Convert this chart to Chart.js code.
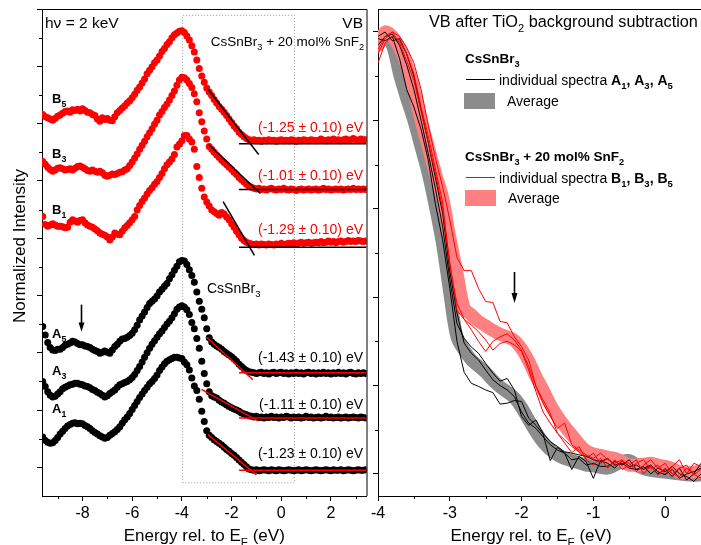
<!DOCTYPE html>
<html><head><meta charset="utf-8">
<script src="https://cdn.jsdelivr.net/npm/chart.js@4.4.1/dist/chart.umd.min.js"></script>
<style>
html,body{margin:0;padding:0;background:#fff;}
#wrap{position:relative;width:701px;height:545px;overflow:hidden;background:#fff;}
#c1{position:absolute;left:0;top:0;}
#c2{position:absolute;left:350px;top:0;}
</style></head><body>
<div id="wrap"><canvas id="c1" width="370" height="545"></canvas><canvas id="c2" width="351" height="545"></canvas></div>
<script>
// ---------------- LEFT PANEL DATA (energy in eV, offset normalized intensity) ----------------
const energyLeft = [-9.6,-9.5,-9.4,-9.3,-9.2,-9.1,-9.0,-8.9,-8.8,-8.7,-8.6,-8.5,-8.4,-8.3,-8.2,-8.1,-8.0,-7.9,-7.8,-7.7,
 -7.6,-7.5,-7.4,-7.3,-7.2,-7.1,-7.0,-6.9,-6.8,-6.7,-6.6,-6.5,-6.4,-6.3,-6.2,-6.1,-6.0,-5.9,-5.8,-5.7,
 -5.6,-5.5,-5.4,-5.3,-5.2,-5.1,-5.0,-4.9,-4.8,-4.7,-4.6,-4.5,-4.4,-4.3,-4.2,-4.1,-4.0,-3.9,-3.8,-3.7,
 -3.6,-3.5,-3.4,-3.3,-3.2,-3.1,-3.0,-2.9,-2.8,-2.7,-2.6,-2.5,-2.4,-2.3,-2.2,-2.1,-2.0,-1.9,-1.8,-1.7,
 -1.6,-1.5,-1.4,-1.3,-1.2,-1.1,-1.0,-0.9,-0.8,-0.7,-0.6,-0.5,-0.4,-0.3,-0.2,-0.1,0.0,0.1,0.2,0.3,
 0.4,0.5,0.6,0.7,0.8,0.9,1.0,1.1,1.2,1.3,1.4,1.5,1.6,1.7,1.8,1.9,2.0,2.1,2.2,2.3,
 2.4,2.5,2.6,2.7,2.8,2.9,3.0,3.1,3.2,3.3,3.4];

const specB5 = [6.16,6.12,6.10,6.08,6.06,6.09,6.13,6.15,6.18,6.21,
 6.22,6.20,6.24,6.23,6.25,6.22,6.26,6.23,6.20,6.19,
 6.16,6.14,6.08,6.04,6.10,6.07,6.09,6.06,6.05,6.12,
 6.19,6.23,6.27,6.31,6.36,6.40,6.45,6.51,6.58,6.64,
 6.71,6.78,6.87,6.93,6.99,7.06,7.11,7.18,7.26,7.31,
 7.38,7.43,7.50,7.55,7.58,7.61,7.62,7.59,7.53,7.46,
 7.36,7.25,7.11,6.96,6.83,6.72,6.62,6.55,6.49,6.42,
 6.36,6.30,6.25,6.20,6.14,6.08,6.02,5.96,5.91,5.85,
 5.81,5.77,5.74,5.72,5.71,5.72,5.70,5.71,5.69,5.71,
 5.70,5.72,5.70,5.71,5.69,5.71,5.72,5.70,5.71,5.70,
 5.72,5.71,5.69,5.71,5.70,5.72,5.71,5.70,5.72,5.71,
 5.70,5.71,5.73,5.71,5.70,5.72,5.71,5.73,5.71,5.72,
 5.70,5.72,5.73,5.71,5.72,5.74,5.72,5.71,5.73,5.72,5.72];

const specB3 = [5.34,5.29,5.24,5.20,5.17,5.19,5.22,5.23,5.21,5.19,
 5.20,5.21,5.19,5.22,5.25,5.26,5.24,5.21,5.18,5.17,
 5.19,5.17,5.15,5.17,5.14,5.10,5.08,5.10,5.12,5.11,
 5.13,5.15,5.16,5.19,5.21,5.27,5.33,5.40,5.47,5.55,
 5.62,5.69,5.77,5.84,5.91,5.99,6.06,6.15,6.21,6.28,
 6.34,6.41,6.49,6.57,6.67,6.76,6.81,6.80,6.76,6.70,
 6.63,6.52,6.38,6.19,6.03,5.87,5.73,5.60,5.55,5.50,
 5.45,5.41,5.36,5.32,5.28,5.24,5.20,5.15,5.11,5.06,
 5.02,4.98,4.94,4.91,4.89,4.87,4.86,4.87,4.85,4.86,
 4.84,4.86,4.87,4.85,4.84,4.86,4.85,4.87,4.85,4.84,
 4.86,4.85,4.83,4.85,4.86,4.84,4.85,4.86,4.84,4.85,
 4.86,4.84,4.85,4.87,4.85,4.86,4.84,4.85,4.86,4.85,
 4.86,4.84,4.85,4.86,4.85,4.87,4.85,4.86,4.85,4.86,4.85];

const specB1 = [4.38,4.24,4.21,4.23,4.25,4.23,4.21,4.21,4.20,4.18,
 4.19,4.28,4.32,4.30,4.28,4.31,4.32,4.27,4.23,4.21,
 4.19,4.16,4.13,4.09,4.07,4.05,4.02,3.97,4.02,4.09,
 4.07,4.06,4.12,4.18,4.22,4.27,4.32,4.38,4.49,4.57,
 4.64,4.70,4.77,4.83,4.88,4.94,4.99,5.06,5.13,5.21,
 5.28,5.33,5.38,5.46,5.59,5.64,5.70,5.79,5.79,5.73,
 5.68,5.55,5.25,5.06,4.87,4.72,4.63,4.56,4.49,4.46,
 4.43,4.40,4.45,4.42,4.37,4.32,4.25,4.19,4.12,4.06,
 4.00,3.96,3.93,3.91,3.90,3.89,3.90,3.88,3.90,3.89,
 3.88,3.90,3.89,3.88,3.90,3.89,3.91,3.89,3.90,3.91,
 3.90,3.92,3.90,3.91,3.93,3.91,3.92,3.93,3.91,3.92,
 3.93,3.92,3.94,3.92,3.93,3.95,3.93,3.94,3.92,3.94,
 3.95,3.93,3.94,3.96,3.94,3.95,3.94,3.96,3.95,3.94,3.95];

const specA5 = [2.46,2.31,2.18,2.09,2.05,2.04,2.06,2.06,2.09,2.13,
 2.15,2.17,2.20,2.19,2.16,2.14,2.14,2.12,2.11,2.09,
 2.06,2.04,2.02,1.99,2.01,2.03,2.01,1.99,2.05,2.11,
 2.15,2.20,2.24,2.25,2.27,2.30,2.34,2.40,2.48,2.57,
 2.64,2.71,2.79,2.86,2.90,2.94,2.99,3.06,3.11,3.16,
 3.21,3.29,3.36,3.44,3.51,3.59,3.61,3.60,3.54,3.45,
 3.35,3.23,3.06,2.90,2.76,2.61,2.42,2.26,2.19,2.15,
 2.12,2.09,2.06,2.02,1.99,1.96,1.93,1.89,1.85,1.80,
 1.76,1.72,1.69,1.67,1.66,1.65,1.64,1.65,1.66,1.64,
 1.65,1.63,1.65,1.66,1.64,1.65,1.66,1.64,1.65,1.63,
 1.65,1.64,1.66,1.64,1.65,1.63,1.65,1.66,1.64,1.65,
 1.63,1.65,1.64,1.66,1.64,1.65,1.63,1.65,1.64,1.66,
 1.64,1.65,1.63,1.65,1.66,1.64,1.63,1.65,1.64,1.65,1.64];

const specA3 = [1.50,1.41,1.32,1.26,1.23,1.24,1.28,1.32,1.37,1.40,
 1.42,1.44,1.45,1.47,1.47,1.45,1.44,1.42,1.41,1.39,
 1.36,1.34,1.31,1.29,1.26,1.23,1.25,1.29,1.32,1.35,
 1.40,1.44,1.46,1.48,1.50,1.53,1.57,1.62,1.69,1.76,
 1.84,1.92,2.00,2.08,2.15,2.21,2.27,2.33,2.38,2.44,
 2.50,2.55,2.61,2.68,2.76,2.80,2.82,2.80,2.75,2.67,
 2.53,2.42,2.25,2.08,1.85,1.64,1.46,1.32,1.25,1.23,
 1.21,1.17,1.14,1.12,1.09,1.06,1.04,1.02,1.00,0.98,
 0.95,0.93,0.92,0.90,0.89,0.88,0.89,0.87,0.88,0.86,
 0.88,0.87,0.89,0.87,0.88,0.86,0.88,0.87,0.89,0.88,
 0.86,0.88,0.87,0.88,0.86,0.87,0.89,0.87,0.88,0.86,
 0.87,0.88,0.86,0.87,0.89,0.87,0.88,0.86,0.87,0.88,
 0.86,0.87,0.88,0.86,0.87,0.88,0.87,0.86,0.88,0.87,0.86];

const specA1 = [0.53,0.47,0.44,0.42,0.43,0.47,0.52,0.58,0.63,0.68,
 0.72,0.75,0.77,0.78,0.76,0.77,0.76,0.73,0.71,0.68,
 0.64,0.61,0.58,0.55,0.53,0.51,0.52,0.56,0.59,0.62,
 0.66,0.71,0.77,0.83,0.88,0.94,1.01,1.08,1.15,1.22,
 1.28,1.34,1.40,1.46,1.50,1.55,1.61,1.69,1.75,1.81,
 1.85,1.88,1.90,1.92,1.92,1.91,1.90,1.84,1.79,1.70,
 1.56,1.42,1.34,1.19,0.98,0.80,0.64,0.56,0.52,0.48,
 0.45,0.42,0.39,0.35,0.31,0.28,0.24,0.21,0.17,0.13,
 0.09,0.05,0.01,-0.03,-0.04,-0.05,-0.04,-0.06,-0.05,-0.04,
 -0.05,-0.06,-0.04,-0.05,-0.06,-0.04,-0.05,-0.06,-0.05,-0.04,
 -0.05,-0.06,-0.05,-0.04,-0.06,-0.05,-0.04,-0.05,-0.06,-0.05,
 -0.04,-0.05,-0.06,-0.05,-0.04,-0.05,-0.06,-0.04,-0.05,-0.05,
 -0.04,-0.06,-0.05,-0.04,-0.05,-0.06,-0.05,-0.04,-0.05,-0.05,-0.04];

// Linear onset fits (edge line: two end points; baseline: level)
const fitB5X = [-2.95,-0.91], fitB5Y = [6.60,5.46], baseB5 = 5.65;
const fitB3X = [-2.91,-0.84], fitB3Y = [5.63,4.78], baseB3 = 4.85;
const fitB1X = [-2.34,-1.08], fitB1Y = [4.64,3.70], baseB1 = 3.84;
const fitA5X = [-3.01,-1.14], fitA5Y = [2.27,1.53], baseA5 = 1.65;
const fitA3X = [-3.21,-0.94], fitA3Y = [1.36,0.81], baseA3 = 0.86;
const fitA1X = [-2.95,-1.00], fitA1Y = [0.57,-0.13], baseA1 = -0.05;
const baseX = [-1.70, 3.43];
const onsetLabelsB = ['(-1.25 \u00B1 0.10) eV','(-1.01 \u00B1 0.10) eV','(-1.29 \u00B1 0.10) eV'];
const onsetLabelsA = ['(-1.43 \u00B1 0.10) eV','(-1.11 \u00B1 0.10) eV','(-1.23 \u00B1 0.10) eV'];
const boxX = [-3.97, 0.53], boxY = [-0.27, 7.89];
const leftXTicksMinor = [-9,-7,-5,-3,-1,1,3];
const leftYTicksMinor = [0.5,1.5,2.5,3.5,4.5,5.5,6.5,7.5];
const arrowLeft = {x:-8.05, from:2.84, to:2.37};

// ---------------- RIGHT PANEL DATA ----------------
const energyRight = [-4.0,-3.9,-3.8,-3.7,-3.6,-3.5,-3.4,-3.3,-3.2,-3.1,-3.0,-2.9,-2.8,-2.7,-2.6,-2.5,-2.4,-2.3,-2.2,-2.1,
 -2.0,-1.9,-1.8,-1.7,-1.6,-1.5,-1.4,-1.3,-1.2,-1.1,-1.0,-0.9,-0.8,-0.7,-0.6,-0.5,-0.4,-0.3,-0.2,-0.1,
 0.0,0.1,0.2,0.3,0.4,0.5];
const vbA1 = [0.985,0.98,0.99,0.94,0.87,0.83,0.78,0.71,0.61,0.53,
 0.42,0.30,0.23,0.205,0.198,0.19,0.184,0.158,0.16,0.166,
 0.164,0.126,0.11,0.09,0.03,0.06,0.047,0.01,0.04,0.028,
 -0.01,0.03,0.024,0.013,0.03,0.017,0.02,0.01,0.017,0.0,
 0.01,-0.006,0.013,-0.014,0.0,0.024];
const vbA3 = [0.97,0.99,0.995,0.97,0.925,0.87,0.80,0.725,0.645,0.56,
 0.44,0.34,0.307,0.287,0.273,0.25,0.228,0.21,0.216,0.19,
 0.13,0.11,0.122,0.092,0.073,0.062,0.05,0.047,0.043,0.04,
 0.032,0.028,0.035,0.02,0.024,0.013,0.01,0.017,0.0,0.013,
 0.005,0.017,0.0,-0.006,-0.017,0.0];
const vbA5 = [0.99,1.0,0.98,0.985,0.95,0.90,0.825,0.75,0.67,0.59,
 0.46,0.364,0.296,0.273,0.258,0.235,0.213,0.20,0.19,0.175,
 0.14,0.115,0.103,0.084,0.066,0.054,0.047,0.032,0.035,0.02,
 0.024,0.017,0.017,0.028,0.02,0.032,0.01,0.013,0.02,0.005,
 -0.002,0.01,-0.01,0.0,0.005,0.013];
const vbB1 = [0.96,0.99,1.0,0.99,0.965,0.93,0.87,0.79,0.715,0.65,
 0.575,0.49,0.46,0.46,0.42,0.39,0.388,0.345,0.342,0.31,
 0.288,0.258,0.198,0.16,0.13,0.103,0.115,0.066,0.054,0.043,
 0.035,0.047,0.032,0.024,0.032,0.013,0.024,0.032,0.01,0.02,
 0.0,0.017,0.032,0.0,0.024,0.017];
const vbB3 = [0.93,0.975,0.99,0.98,0.95,0.905,0.83,0.765,0.69,0.615,
 0.47,0.386,0.35,0.326,0.30,0.277,0.30,0.31,0.317,0.303,
 0.28,0.243,0.198,0.167,0.137,0.092,0.077,0.062,0.05,0.035,
 0.047,0.024,0.035,0.017,0.028,0.024,0.005,0.02,0.032,0.013,
 0.024,0.0,0.013,0.02,-0.002,0.01];
const vbB5 = [0.95,0.985,1.0,0.975,0.935,0.89,0.82,0.75,0.68,0.60,
 0.48,0.37,0.35,0.337,0.322,0.303,0.28,0.295,0.30,0.292,
 0.277,0.235,0.186,0.14,0.115,0.092,0.07,0.048,0.062,0.032,
 0.02,0.035,0.013,0.032,0.01,0.02,0.032,0.0,0.017,-0.002,
 0.013,0.0,-0.006,0.013,0.0,-0.01];
const vbAvgA = [0.97,0.99,0.97,0.905,0.85,0.80,0.74,0.68,0.605,0.52,
 0.41,0.31,0.28,0.258,0.244,0.23,0.212,0.197,0.185,0.172,
 0.15,0.122,0.095,0.072,0.055,0.043,0.035,0.03,0.025,0.02,
 0.018,0.015,0.013,0.02,0.028,0.03,0.02,0.012,0.008,0.006,
 0.004,0.002,0.0,-0.002,-0.003,-0.002];
const vbAvgB = [0.97,1.0,0.99,0.965,0.925,0.87,0.80,0.74,0.68,0.625,
 0.535,0.455,0.375,0.36,0.345,0.335,0.325,0.316,0.31,0.302,
 0.283,0.255,0.22,0.19,0.157,0.13,0.108,0.088,0.068,0.052,
 0.045,0.042,0.038,0.035,0.028,0.02,0.02,0.022,0.024,0.02,
 0.017,0.012,0.005,0.002,0.004,0.005];
const rightXTicksMinor = [-3.5,-2.5,-1.5,-0.5];
const rightYTicksMinor = [0.1,0.3,0.5,0.7,0.9];
const arrowRight = {x:-2.1, from:0.457, to:0.387};

// ---------------- helpers ----------------
const FONT = "'Liberation Sans', Arial, Helvetica, sans-serif";
Chart.defaults.font.family = FONT;
Chart.defaults.color = '#000';
const RED = '#ff0000', GREY_BAND = '#8c8c8c', RED_BAND = '#ff8080';

const pts = (xs, ys) => xs.map((x, i) => ({x, y: ys[i]}));
const hline = (xs, y) => xs.map(x => ({x, y}));
const rect = (xs, ys) => [{x:xs[0],y:ys[0]},{x:xs[0],y:ys[1]},{x:xs[1],y:ys[1]},{x:xs[1],y:ys[0]},{x:xs[0],y:ys[0]}];

function drawRich(ctx, x, y, segs, size, color, align) {
  const parts = segs.map(s => {
    const f = s[1] || '';
    const bold = f.indexOf('b') >= 0, sub = f.indexOf('s') >= 0;
    const sz = sub ? Math.round(size * 0.68 * 10) / 10 : size;
    const font = (bold ? 'bold ' : '') + sz + 'px ' + FONT;
    ctx.font = font;
    return {t: s[0], font, w: ctx.measureText(s[0]).width, dy: sub ? size * 0.3 : 0};
  });
  const total = parts.reduce((a, p) => a + p.w, 0);
  let cx = align === 'right' ? x - total : (align === 'center' ? x - total / 2 : x);
  ctx.fillStyle = color; ctx.textAlign = 'left'; ctx.textBaseline = 'alphabetic';
  parts.forEach(p => { ctx.font = p.font; ctx.fillText(p.t, cx, y + p.dy); cx += p.w; });
}
function drawArrow(ctx, px, y0, y1, w, head) {
  ctx.strokeStyle = '#000'; ctx.fillStyle = '#000'; ctx.lineWidth = 1.6;
  ctx.beginPath(); ctx.moveTo(px, y0); ctx.lineTo(px, y1 - head + 1); ctx.stroke();
  ctx.beginPath(); ctx.moveTo(px - w / 2, y1 - head); ctx.lineTo(px + w / 2, y1 - head); ctx.lineTo(px, y1); ctx.closePath(); ctx.fill();
}
function minorTicks(ctx, chart, xs, ys) {
  const a = chart.chartArea, sx = chart.scales.x, sy = chart.scales.y;
  ctx.strokeStyle = '#000'; ctx.lineWidth = 1;
  xs.forEach(v => { const p = Math.round(sx.getPixelForValue(v)) + 0.5; ctx.beginPath(); ctx.moveTo(p, a.bottom); ctx.lineTo(p, a.bottom + 3); ctx.stroke(); });
  ys.forEach(v => { const p = Math.round(sy.getPixelForValue(v)) + 0.5; ctx.beginPath(); ctx.moveTo(a.left, p); ctx.lineTo(a.left - 3, p); ctx.stroke(); });
}
const xTitle = [['Energy rel. to E'], ['F','s'], [' (eV)']];

// ---------------- LEFT CHART ----------------
const dotDs = (label, ys, color) => ({label, type:'scatter', data: pts(energyLeft, ys), backgroundColor: color, borderWidth: 0,
  pointRadius: 3.5, pointHoverRadius: 3.5, showLine: false, clip: 0, order: 5});
const fitDs = (xs, ys, color) => ({type:'line', data: pts(xs, ys), borderColor: color, borderWidth: 1.5, pointRadius: 0, showLine: true, fill: false, order: 1});
const baseDs = (y, color) => ({type:'line', data: hline(baseX, y), borderColor: color, borderWidth: 1.5, pointRadius: 0, showLine: true, fill: false, order: 1, clip: 0});

const leftDeco = {
  id: 'leftDeco',
  afterDraw(chart) {
    const ctx = chart.ctx, a = chart.chartArea, sx = chart.scales.x, sy = chart.scales.y;
    ctx.save();
    ctx.strokeStyle = '#000'; ctx.lineWidth = 1;
    ctx.beginPath(); ctx.moveTo(a.left, a.top + 0.5); ctx.lineTo(a.right + 0.5, a.top + 0.5); ctx.lineTo(a.right + 0.5, a.bottom); ctx.stroke();
    minorTicks(ctx, chart, leftXTicksMinor, leftYTicksMinor);
    drawArrow(ctx, Math.round(sx.getPixelForValue(arrowLeft.x)) + 0.5, sy.getPixelForValue(arrowLeft.from), sy.getPixelForValue(arrowLeft.to), 6, 9);
    drawRich(ctx, 45, 28, [['h\u03BD = 2 keV']], 15.5, '#000', 'left');
    drawRich(ctx, 363, 28, [['VB']], 15.5, '#000', 'right');
    drawRich(ctx, 364, 45.5, [['CsSnBr'], ['3','s'], [' + 20 mol% SnF'], ['2','s']], 13.5, '#000', 'right');
    drawRich(ctx, 52, 103, [['B','b'], ['5','bs']], 13, '#000', 'left');
    drawRich(ctx, 52, 158, [['B','b'], ['3','bs']], 13, '#000', 'left');
    drawRich(ctx, 52, 214, [['B','b'], ['1','bs']], 13, '#000', 'left');
    drawRich(ctx, 52, 338, [['A','b'], ['5','bs']], 13, '#000', 'left');
    drawRich(ctx, 52, 375, [['A','b'], ['3','bs']], 13, '#000', 'left');
    drawRich(ctx, 52, 413, [['A','b'], ['1','bs']], 13, '#000', 'left');
    drawRich(ctx, 363, 131.5, [[onsetLabelsB[0]]], 14, RED, 'right');
    drawRich(ctx, 363, 180, [[onsetLabelsB[1]]], 14, RED, 'right');
    drawRich(ctx, 363, 233.5, [[onsetLabelsB[2]]], 14, RED, 'right');
    drawRich(ctx, 363, 362, [[onsetLabelsA[0]]], 14, '#000', 'right');
    drawRich(ctx, 363, 409, [[onsetLabelsA[1]]], 14, '#000', 'right');
    drawRich(ctx, 363, 458, [[onsetLabelsA[2]]], 14, '#000', 'right');
    drawRich(ctx, 207, 293, [['CsSnBr'], ['3','s']], 14, '#000', 'left');
    drawRich(ctx, (a.left + a.right) / 2, 541, xTitle, 17, '#000', 'center');
    ctx.save(); ctx.translate(25, 246); ctx.rotate(-Math.PI / 2);
    drawRich(ctx, 0, 0, [['Normalized Intensity']], 17, '#000', 'center');
    ctx.restore();
    ctx.restore();
  }
};

new Chart(document.getElementById('c1'), {
  type: 'scatter',
  data: { datasets: [
    {type:'line', data: rect(boxX, boxY), borderColor:'#9a9a9a', borderWidth:1, borderDash:[1,2], pointRadius:0, showLine:true, fill:false, order:10},
    dotDs('B5', specB5, RED), dotDs('B3', specB3, RED), dotDs('B1', specB1, RED),
    dotDs('A5', specA5, '#000'), dotDs('A3', specA3, '#000'), dotDs('A1', specA1, '#000'),
    fitDs(fitB5X, fitB5Y, '#000'), baseDs(baseB5, '#000'),
    fitDs(fitB3X, fitB3Y, '#000'), baseDs(baseB3, '#000'),
    fitDs(fitB1X, fitB1Y, '#000'), baseDs(baseB1, '#000'),
    fitDs(fitA5X, fitA5Y, RED), baseDs(baseA5, RED),
    fitDs(fitA3X, fitA3Y, RED), baseDs(baseA3, RED),
    fitDs(fitA1X, fitA1Y, RED), baseDs(baseA1, RED)
  ]},
  options: {
    responsive: false, animation: false, events: [],
    layout: { padding: { left: 37, right: 3, top: 9, bottom: 0 } },
    plugins: { legend: { display: false }, tooltip: { enabled: false } },
    scales: {
      x: { type:'linear', min:-9.63, max:3.43,
        ticks: { stepSize: 2, includeBounds: false, padding: 3, maxRotation: 0, autoSkip: false, font: { size: 16 }, color:'#000', callback: v => String(Math.round(v)) },
        grid: { drawOnChartArea: false, drawTicks: true, tickLength: 5, color:'#000', tickColor:'#000' },
        border: { display: true, color:'#000', width: 1 },
        afterFit: s => { s.height = 49; } },
      y: { type:'linear', min:-0.5, max:8.0,
        ticks: { display: false, stepSize: 1, includeBounds: false },
        grid: { drawOnChartArea: false, drawTicks: true, tickLength: 5, color:'#000', tickColor:'#000' },
        border: { display: true, color:'#000', width: 1 },
        afterFit: s => { s.width = 5; } }
    }
  },
  plugins: [leftDeco]
});

// ---------------- RIGHT CHART ----------------
const OX = 350;
const thinDs = (ys, color, order) => ({data: pts(energyRight, ys), borderColor: color, borderWidth: 1, pointRadius: 0, showLine: true, fill: false, tension: 0, order, clip: 0});
const bandDs = (ys, color, order) => ({data: pts(energyRight, ys), borderColor: color, borderWidth: 13, pointRadius: 0, showLine: true, fill: false, tension: 0.35, borderCapStyle:'round', borderJoinStyle:'round', order, clip: 0});

const rightDeco = {
  id: 'rightDeco',
  afterDraw(chart) {
    const ctx = chart.ctx, a = chart.chartArea, sx = chart.scales.x, sy = chart.scales.y;
    ctx.save();
    ctx.strokeStyle = '#000'; ctx.lineWidth = 1;
    ctx.beginPath(); ctx.moveTo(a.left, a.top + 0.5); ctx.lineTo(a.right, a.top + 0.5); ctx.stroke();
    minorTicks(ctx, chart, rightXTicksMinor, rightYTicksMinor);
    drawArrow(ctx, Math.round(sx.getPixelForValue(arrowRight.x)) + 0.5, sy.getPixelForValue(arrowRight.from), sy.getPixelForValue(arrowRight.to), 6, 10);
    drawRich(ctx, 429 - OX, 27, [['VB after TiO'], ['2','s'], [' background subtraction']], 16.3, '#000', 'left');
    // legend
    drawRich(ctx, 465 - OX, 63, [['CsSnBr','b'], ['3','bs']], 13.5, '#000', 'left');
    ctx.strokeStyle = '#000'; ctx.lineWidth = 1;
    ctx.beginPath(); ctx.moveTo(466 - OX, 79.5); ctx.lineTo(495 - OX, 79.5); ctx.stroke();
    drawRich(ctx, 499 - OX, 85, [['individual spectra '], ['A','b'], ['1','bs'], [', ','b'], ['A','b'], ['3','bs'], [', ','b'], ['A','b'], ['5','bs']], 14, '#000', 'left');
    ctx.fillStyle = GREY_BAND; ctx.fillRect(464 - OX, 93, 31, 16);
    drawRich(ctx, 507 - OX, 105.5, [['Average']], 14, '#000', 'left');
    drawRich(ctx, 465 - OX, 161, [['CsSnBr','b'], ['3','bs'], [' + 20 mol% SnF','b'], ['2','bs']], 13.5, '#000', 'left');
    ctx.strokeStyle = RED; ctx.lineWidth = 1;
    ctx.beginPath(); ctx.moveTo(466 - OX, 177.5); ctx.lineTo(495 - OX, 177.5); ctx.stroke();
    drawRich(ctx, 499 - OX, 183, [['individual spectra '], ['B','b'], ['1','bs'], [', ','b'], ['B','b'], ['3','bs'], [', ','b'], ['B','b'], ['5','bs']], 14, '#000', 'left');
    ctx.fillStyle = RED_BAND; ctx.fillRect(465 - OX, 190, 31, 16);
    drawRich(ctx, 508 - OX, 202.5, [['Average']], 14, '#000', 'left');
    drawRich(ctx, 531 - OX, 541, xTitle, 17, '#000', 'center');
    ctx.restore();
  }
};

new Chart(document.getElementById('c2'), {
  type: 'scatter',
  data: { datasets: [
    bandDs(vbAvgA, GREY_BAND, 10),
    bandDs(vbAvgB, RED_BAND, 9),
    thinDs(vbA1, '#000', 5), thinDs(vbA3, '#000', 5), thinDs(vbA5, '#000', 5),
    thinDs(vbB1, RED, 4), thinDs(vbB3, RED, 4), thinDs(vbB5, RED, 4)
  ]},
  options: {
    responsive: false, animation: false, events: [],
    layout: { padding: { left: 23, right: 0, top: 9, bottom: 0 } },
    plugins: { legend: { display: false }, tooltip: { enabled: false } },
    scales: {
      x: { type:'linear', min:-4, max:0.5,
        ticks: { stepSize: 1, includeBounds: false, padding: 3, maxRotation: 0, autoSkip: false, font: { size: 16 }, color:'#000', callback: v => String(Math.round(v)) },
        grid: { drawOnChartArea: false, drawTicks: true, tickLength: 5, color:'#000', tickColor:'#000' },
        border: { display: true, color:'#000', width: 1 },
        afterFit: s => { s.height = 49; } },
      y: { type:'linear', min:-0.05, max:1.052,
        ticks: { display: false, stepSize: 0.2, includeBounds: false },
        grid: { drawOnChartArea: false, drawTicks: true, tickLength: 5, color:'#000', tickColor:'#000' },
        border: { display: true, color:'#000', width: 1 },
        afterFit: s => { s.width = 5; } }
    }
  },
  plugins: [rightDeco]
});
</script>
</body></html>
